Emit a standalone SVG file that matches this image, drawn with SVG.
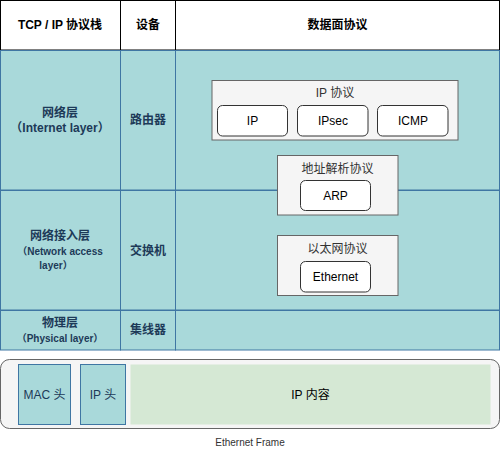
<svg xmlns="http://www.w3.org/2000/svg" width="501" height="449" viewBox="0 0 501 449">
<style>
.hdr{fill:#ffffff;stroke:#000000;stroke-width:1}
.cell{fill:#a9d9da;stroke:#3f76a3;stroke-width:1}
.grp{fill:#f5f5f5;stroke:#666666;stroke-width:1}
.item{fill:#ffffff;stroke:#333333;stroke-width:1}
text{font-family:"Liberation Sans","Noto Sans CJK SC",sans-serif;text-anchor:middle;dominant-baseline:central}
.ht{font-size:12px;font-weight:bold;fill:#000000}
.ct{font-size:12px;font-weight:bold;fill:#1d3a58}
.cs{font-size:10px;font-weight:bold;fill:#1d3a58}
.gt{font-size:12px;fill:#333333}
.it{font-size:12px;fill:#000000}
.ft{font-size:12px;fill:#1d3a58}
.lb{font-size:10px;fill:#333333}
</style>
<rect width="501" height="449" fill="#ffffff"/>
<g id="header">
<rect class="hdr" x="0.5" y="0.5" width="120" height="49.5"/>
<rect class="hdr" x="120.5" y="0.5" width="55" height="49.5"/>
<rect class="hdr" x="175.5" y="0.5" width="324" height="49.5"/>
<text class="ht" x="60" y="25">TCP / IP 协议栈</text>
<text class="ht" x="148" y="25">设备</text>
<text class="ht" x="337.5" y="25">数据面协议</text>
</g>
<g id="row-internet">
<rect class="cell" x="0.5" y="50.5" width="120" height="139.5"/>
<rect class="cell" x="120.5" y="50.5" width="55" height="139.5"/>
<rect class="cell" x="175.5" y="50.5" width="324" height="139.5"/>
<text class="ct" x="60" y="113">网络层</text>
<text class="ct" x="60" y="128">（Internet layer）</text>
<text class="ct" x="148" y="120">路由器</text>
</g>
<g id="row-network-access">
<rect class="cell" x="0.5" y="190.5" width="120" height="119.5"/>
<rect class="cell" x="120.5" y="190.5" width="55" height="119.5"/>
<rect class="cell" x="175.5" y="190.5" width="324" height="119.5"/>
<text class="ct" x="60" y="236">网络接入层</text>
<text class="cs" x="60" y="251">（Network access</text>
<text class="cs" x="56" y="265">layer）</text>
<text class="ct" x="148" y="251">交换机</text>
</g>
<g id="row-physical">
<rect class="cell" x="0.5" y="310.5" width="120" height="39.5"/>
<rect class="cell" x="120.5" y="310.5" width="55" height="39.5"/>
<rect class="cell" x="175.5" y="310.5" width="324" height="39.5"/>
<text class="ct" x="60" y="323">物理层</text>
<text class="cs" x="60" y="338">（Physical layer）</text>
<text class="ct" x="148" y="330">集线器</text>
</g>
<g id="ip-protocol">
<rect class="grp" x="212" y="80.5" width="246" height="59.5"/>
<text class="gt" x="335" y="93">IP 协议</text>
</g>
<g id="ip">
<rect class="item" x="217.5" y="105.5" width="70" height="30.5" rx="5"/>
<text class="it" x="252.5" y="120.5">IP</text>
</g>
<g id="ipsec">
<rect class="item" x="297.5" y="105.5" width="70.5" height="30.5" rx="5"/>
<text class="it" x="333" y="120.5">IPsec</text>
</g>
<g id="icmp">
<rect class="item" x="377.5" y="105.5" width="70.5" height="30.5" rx="5"/>
<text class="it" x="413" y="120.5">ICMP</text>
</g>
<g id="arp-protocol">
<rect class="grp" x="277.5" y="155.5" width="120.5" height="59.5"/>
<text class="gt" x="337.5" y="169">地址解析协议</text>
</g>
<g id="arp">
<rect class="item" x="300.5" y="180.5" width="70" height="30" rx="5"/>
<text class="it" x="335.5" y="195.5">ARP</text>
</g>
<g id="ethernet-protocol">
<rect class="grp" x="277.5" y="235.5" width="120.5" height="60"/>
<text class="gt" x="337.5" y="249">以太网协议</text>
</g>
<g id="ethernet">
<rect class="item" x="300.5" y="261.5" width="70" height="30.5" rx="5"/>
<text class="it" x="335.5" y="277">Ethernet</text>
</g>
<g id="ethernet-frame">
<rect class="grp" x="0.5" y="359.5" width="499" height="69" rx="9"/>
<text class="lb" x="250" y="442">Ethernet Frame</text>
</g>
<g id="mac-header">
<rect class="cell" x="18.5" y="364.5" width="52" height="60"/>
<text class="ft" x="44.5" y="394.5">MAC 头</text>
</g>
<g id="ip-header">
<rect class="cell" x="80.5" y="364.5" width="45" height="60"/>
<text class="ft" x="103" y="394.5">IP 头</text>
</g>
<g id="ip-content">
<rect x="130.5" y="364.5" width="360" height="60" fill="#d5e8d4" stroke="none"/>
<text class="it" x="310.5" y="394.5">IP 内容</text>
</g>
<g id="connectors"></g>
</svg>
